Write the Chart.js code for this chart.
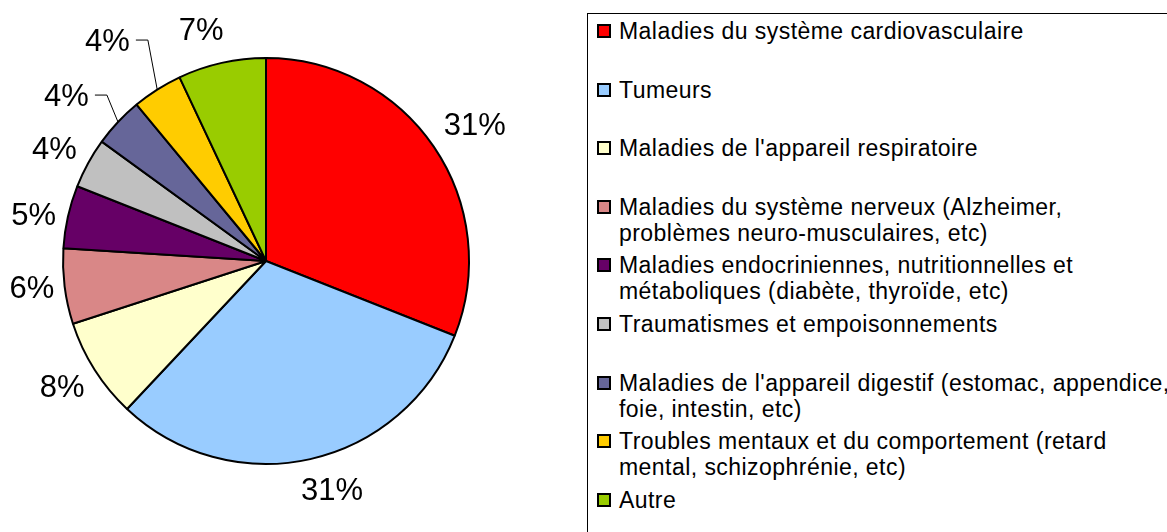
<!DOCTYPE html>
<html lang="fr">
<head>
  <meta charset="UTF-8" />
  <title>Causes de décès</title>
  <style>
    * { box-sizing: border-box; margin: 0; padding: 0; }
    html, body {
      width: 1167px; height: 532px;
      overflow: hidden;
      background: #fff;
      font-family: 'Liberation Sans', Arial, sans-serif;
    }
    #pieWrap {
      position: absolute; left: 0; top: 0;
      width: 532px; height: 532px;
    }
    #legend {
      position: absolute; left: 587px; top: 13px;
      width: 700px; height: 600px;
      border: 1px solid #000;
    }
    .item {
      position: absolute; left: 9px;
      font-size: 23px; line-height: 26px;
      letter-spacing: 0.45px;
      color: #000; white-space: nowrap;
    }
    .item .sw {
      position: absolute; left: 0; top: 6px;
      width: 14px; height: 14px;
      border: 2px solid #000;
    }
    .item .txt { margin-left: 22px; }
  </style>
</head>
<body>
  <div id="pieWrap"><canvas id="pie"></canvas></div>
  <div id="legend"></div>

  <script src="https://cdn.jsdelivr.net/npm/chart.js"></script>
  <script>
    // categories (one array per legend line)
    const categories = [
      ['Maladies du système cardiovasculaire'],
      ['Tumeurs'],
      ["Maladies de l'appareil respiratoire"],
      ['Maladies du système nerveux (Alzheimer,', 'problèmes neuro-musculaires, etc)'],
      ['Maladies endocriniennes, nutritionnelles et', 'métaboliques (diabète, thyroïde, etc)'],
      ['Traumatismes et empoisonnements'],
      ["Maladies de l'appareil digestif (estomac, appendice,", 'foie, intestin, etc)'],
      ['Troubles mentaux et du comportement (retard', 'mental, schizophrénie, etc)'],
      ['Autre']
    ];
    const percents = [31, 31, 8, 6, 5, 4, 4, 4, 7];
    const colors = ['#FF0000', '#99CCFF', '#FFFFCC', '#D98787', '#660066',
                    '#C0C0C0', '#666699', '#FFCC00', '#99CC00'];

    // label nudges (px) and which labels get a leader line
    const labelNudge = [[12, -2], [14, -3], [-3, -1], [2, -2], [0, 6], [-3, 3], [-26, -2], [-31, -19], [-13, 2]];
    const leader = [false, false, false, false, false, false, true, true, false];

    const pctLabels = {
      id: 'pctLabels',
      afterDatasetsDraw(chart) {
        const ctx = chart.ctx;
        const meta = chart.getDatasetMeta(0);
        ctx.save();
        ctx.font = '31px "Liberation Sans", Arial, sans-serif';
        ctx.fillStyle = '#000';
        ctx.textAlign = 'center';
        ctx.textBaseline = 'middle';
        meta.data.forEach((arc, i) => {
          const p = arc.getProps(['x', 'y', 'startAngle', 'endAngle', 'outerRadius'], true);
          const mid = (p.startAngle + p.endAngle) / 2;
          const r = p.outerRadius + 35;
          const lx = p.x + Math.cos(mid) * r + labelNudge[i][0];
          const ly = p.y + Math.sin(mid) * r + labelNudge[i][1];
          const txt = percents[i] + '%';
          ctx.fillText(txt, lx, ly + 1);
          if (leader[i]) {
            const w = ctx.measureText(txt).width;
            const sx = lx + w / 2 + 6;
            const ex = p.x + Math.cos(mid) * p.outerRadius;
            const ey = p.y + Math.sin(mid) * p.outerRadius;
            ctx.beginPath();
            ctx.lineWidth = 1;
            ctx.strokeStyle = '#000';
            ctx.moveTo(sx, ly - 1);
            ctx.lineTo(sx + 12, ly - 1);
            ctx.lineTo(ex, ey);
            ctx.stroke();
          }
        });
        ctx.restore();
      }
    };

    new Chart(document.getElementById('pie'), {
      type: 'pie',
      data: {
        labels: categories.map(c => c.join(' ')),
        datasets: [{
          data: percents,
          backgroundColor: colors,
          borderColor: '#000',
          borderWidth: 2,
          radius: 203
        }]
      },
      options: {
        responsive: true,
        maintainAspectRatio: false,
        animation: false,
        layout: { padding: { top: 0, bottom: 10, left: 0, right: 0 } },
        plugins: {
          legend: { display: false },
          tooltip: { enabled: false }
        }
      },
      plugins: [pctLabels]
    });

    // legend box built from the same arrays
    const legend = document.getElementById('legend');
    const slot = 58.6;
    categories.forEach((lines, i) => {
      const item = document.createElement('div');
      item.className = 'item';
      item.style.top = (30 - 13 - 13 + i * slot) + 'px';
      const sw = document.createElement('span');
      sw.className = 'sw';
      sw.style.background = colors[i];
      const txt = document.createElement('div');
      txt.className = 'txt';
      txt.innerHTML = lines.join('<br>');
      item.appendChild(sw);
      item.appendChild(txt);
      legend.appendChild(item);
    });
  </script>
</body>
</html>
